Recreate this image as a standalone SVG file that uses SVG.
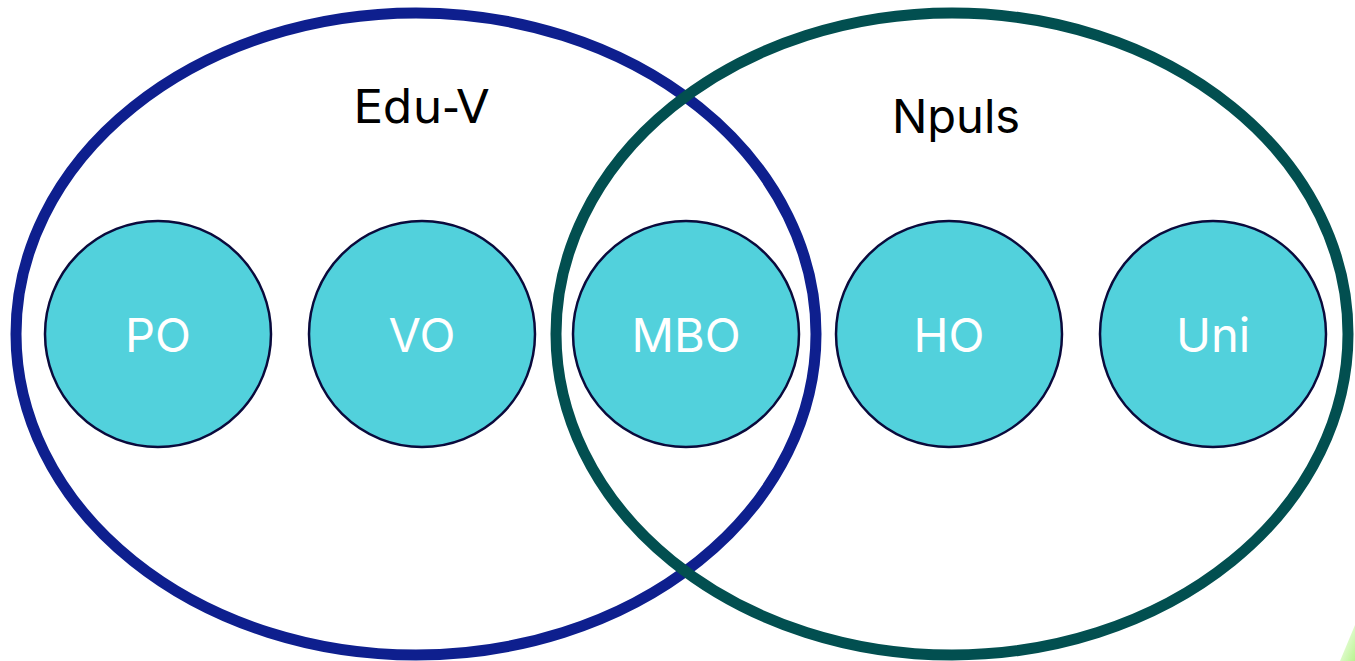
<svg xmlns="http://www.w3.org/2000/svg" width="1355" height="661" viewBox="0 0 1355 661">
<defs>
<style>
.node circle{fill:#52d1dc;stroke:#0a0a3c;stroke-width:2.5}
.node text{fill:#ffffff;font-family:Inter,"Liberation Sans",sans-serif;font-size:47px;text-anchor:middle}
.lbl{fill:#000;font-family:Inter,"Liberation Sans",sans-serif;font-size:47px;text-anchor:middle}
.dv{font-family:"DejaVu Sans",sans-serif;font-size:47px}
.set{fill:none;stroke-width:11}
</style>
<linearGradient id="g" x1="0" y1="0" x2="1" y2="1">
<stop offset="0" stop-color="#ffffff"/>
<stop offset="1" stop-color="#b8f58e"/>
</linearGradient>
</defs>
<rect width="1355" height="661" fill="#ffffff"/>
<polygon points="1355,625 1340,661 1355,661" fill="url(#g)"/>
<g id="edu-v">
<ellipse class="set" cx="416" cy="334" rx="400" ry="321" stroke="#0e1f8e"/>
<text class="lbl dv" x="421" y="123">Edu-V</text>
</g>
<g id="npuls">
<ellipse class="set" cx="952" cy="334" rx="396" ry="321" stroke="#024f50"/>
<text class="lbl" x="956" y="133">Npuls</text>
</g>
<g id="po" class="node"><circle cx="158" cy="334" r="113"/><text x="158" y="352">PO</text></g>
<g id="vo" class="node"><circle cx="422" cy="334" r="113"/><text x="422" y="352">VO</text></g>
<g id="mbo" class="node"><circle cx="686" cy="334" r="113"/><text x="686" y="352">MBO</text></g>
<g id="ho" class="node"><circle cx="949" cy="334" r="113"/><text x="949" y="352">HO</text></g>
<g id="uni" class="node"><circle cx="1213" cy="334" r="113"/><text x="1213" y="352">Uni</text></g>
<g id="connectors"></g>
</svg>
